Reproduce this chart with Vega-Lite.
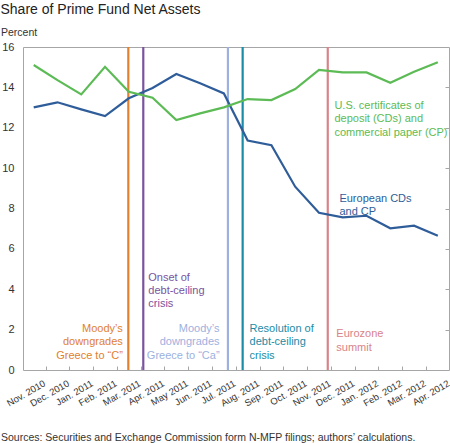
{
  "$schema": "https://vega.github.io/schema/vega-lite/v6.json",
  "width": 426,
  "height": 323,
  "padding": {"left": 0, "top": 3, "right": 1, "bottom": 0},
  "background": "white",
  "title": {
    "text": "Share of Prime Fund Net Assets",
    "anchor": "start",
    "frame": "bounds",
    "font": "Liberation Sans",
    "fontSize": 14,
    "fontWeight": "normal",
    "color": "#222222",
    "offset": 10
  },
  "config": {
    "view": {"stroke": "#a6a6a6", "strokeWidth": 1},
    "font": "Liberation Sans"
  },
  "datasets": {
    "series": [
      {"key": "European CDs and CP", "i": 0, "v": 13.01},
      {"key": "European CDs and CP", "i": 1, "v": 13.26},
      {"key": "European CDs and CP", "i": 2, "v": 12.91},
      {"key": "European CDs and CP", "i": 3, "v": 12.58},
      {"key": "European CDs and CP", "i": 4, "v": 13.46},
      {"key": "European CDs and CP", "i": 5, "v": 13.97},
      {"key": "European CDs and CP", "i": 6, "v": 14.66},
      {"key": "European CDs and CP", "i": 7, "v": 14.2},
      {"key": "European CDs and CP", "i": 8, "v": 13.7},
      {"key": "European CDs and CP", "i": 9, "v": 11.37},
      {"key": "European CDs and CP", "i": 10, "v": 11.14},
      {"key": "European CDs and CP", "i": 11, "v": 9.08},
      {"key": "European CDs and CP", "i": 12, "v": 7.79},
      {"key": "European CDs and CP", "i": 13, "v": 7.56},
      {"key": "European CDs and CP", "i": 14, "v": 7.64},
      {"key": "European CDs and CP", "i": 15, "v": 7.02},
      {"key": "European CDs and CP", "i": 16, "v": 7.15},
      {"key": "European CDs and CP", "i": 17, "v": 6.65},
      {"key": "U.S. CDs and CP", "i": 0, "v": 15.11},
      {"key": "U.S. CDs and CP", "i": 1, "v": 14.36},
      {"key": "U.S. CDs and CP", "i": 2, "v": 13.65},
      {"key": "U.S. CDs and CP", "i": 3, "v": 15.02},
      {"key": "U.S. CDs and CP", "i": 4, "v": 13.78},
      {"key": "U.S. CDs and CP", "i": 5, "v": 13.49},
      {"key": "U.S. CDs and CP", "i": 6, "v": 12.38},
      {"key": "U.S. CDs and CP", "i": 7, "v": 12.71},
      {"key": "U.S. CDs and CP", "i": 8, "v": 13.01},
      {"key": "U.S. CDs and CP", "i": 9, "v": 13.42},
      {"key": "U.S. CDs and CP", "i": 10, "v": 13.37},
      {"key": "U.S. CDs and CP", "i": 11, "v": 13.92},
      {"key": "U.S. CDs and CP", "i": 12, "v": 14.86},
      {"key": "U.S. CDs and CP", "i": 13, "v": 14.74},
      {"key": "U.S. CDs and CP", "i": 14, "v": 14.74},
      {"key": "U.S. CDs and CP", "i": 15, "v": 14.23},
      {"key": "U.S. CDs and CP", "i": 16, "v": 14.77},
      {"key": "U.S. CDs and CP", "i": 17, "v": 15.24}
    ],
    "events": [
      {"key": "Moody C", "pos": 3.98},
      {"key": "Onset", "pos": 4.61},
      {"key": "Moody Ca", "pos": 8.17},
      {"key": "Resolution", "pos": 8.79},
      {"key": "Eurozone", "pos": 12.37}
    ],
    "notesLeft": [
      {"key": "U.S. CDs and CP", "x": 12.65, "y": 13.08, "label": "U.S. certificates of\ndeposit (CDs) and\ncommercial paper (CP)"},
      {"key": "European CDs and CP", "x": 12.86, "y": 8.48, "label": "European CDs\nand CP"},
      {"key": "Onset", "x": 4.82, "y": 4.57, "label": "Onset of\ndebt-ceiling\ncrisis"},
      {"key": "Resolution", "x": 9.08, "y": 2.03, "label": "Resolution of\ndebt-ceiling\ncrisis"},
      {"key": "Eurozone", "x": 12.73, "y": 1.76, "label": "Eurozone\nsummit"}
    ],
    "notesRight": [
      {"key": "Moody C", "x": 3.75, "y": 2.03, "label": "Moody’s\ndowngrades\nGreece to “C”"},
      {"key": "Moody Ca", "x": 7.82, "y": 2.03, "label": "Moody’s\ndowngrades\nGreece to “Ca”"}
    ]
  },
  "resolve": {"axis": {"x": "independent", "y": "independent"}},
  "layer": [
    {
      "data": {"name": "events"},
      "mark": {"type": "rule", "strokeWidth": 2.2},
      "encoding": {
        "x": {
          "field": "pos", "type": "quantitative",
          "scale": {"domain": [-0.45, 17.47], "nice": false, "zero": false},
          "axis": {
            "orient": "bottom", "values": [0.5, 1.5, 2.5, 3.5, 4.5, 5.5, 6.5, 7.5, 8.5, 9.5, 10.5, 11.5, 12.5, 13.5, 14.5, 15.5, 16.5],
            "labels": false, "domain": false, "grid": false, "title": null,
            "tickSize": -4, "tickColor": "#a6a6a6", "tickWidth": 1
          }
        },
        "color": {
          "field": "key", "type": "nominal", "legend": null,
          "scale": {
            "domain": ["European CDs and CP", "U.S. CDs and CP", "Moody C", "Onset", "Moody Ca", "Resolution", "Eurozone"],
            "range": ["#2f5d9a", "#5cbb55", "#e2802e", "#7a52a0", "#9db1e0", "#1b8ca6", "#d98388"]
          }
        }
      }
    },
    {
      "data": {"name": "series"},
      "mark": {"type": "line", "strokeWidth": 2.2},
      "encoding": {
        "x": {
          "field": "i", "type": "quantitative",
          "axis": {
            "orient": "bottom",
            "values": [0, 1, 2, 3, 4, 5, 6, 7, 8, 9, 10, 11, 12, 13, 14, 15, 16, 17],
            "labelExpr": "['Nov. 2010','Dec. 2010','Jan. 2011','Feb. 2011','Mar. 2011','Apr. 2011','May 2011','Jun. 2011','Jul. 2011','Aug. 2011','Sep. 2011','Oct. 2011','Nov. 2011','Dec. 2011','Jan. 2012','Feb. 2012','Mar. 2012','Apr. 2012'][datum.value]",
            "labelAngle": -30, "labelFontSize": 9.5, "labelColor": "#333333",
            "labelPadding": 8, "labelOffset": 8, "labelOverlap": false, "labelFlush": false,
            "ticks": false, "tickSize": 0, "domain": false, "grid": false,
            "title": "Sources: Securities and Exchange Commission form N-MFP filings; authors’ calculations.",
            "titleFontSize": 10.5, "titleFontWeight": "normal", "titleColor": "#333333",
            "titleAlign": "left", "titleBaseline": "middle", "titleX": -22.5, "titleY": 67
          }
        },
        "y": {
          "field": "v", "type": "quantitative",
          "scale": {"domain": [0, 16], "nice": false},
          "axis": {
            "orient": "left", "values": [0, 2, 4, 6, 8, 10, 12, 14, 16],
            "labelFontSize": 11, "labelColor": "#333333", "labelPadding": 9,
            "ticks": false, "tickSize": 0, "domain": false, "grid": false,
            "title": "Percent", "titleAngle": 0, "titleFontSize": 10.5, "titleFontWeight": "normal",
            "titleColor": "#333333", "titleAlign": "left", "titleBaseline": "middle",
            "titleX": -22.5, "titleY": -15
          }
        },
        "color": {"field": "key", "type": "nominal", "legend": null}
      }
    },
    {
      "data": {"name": "notesLeft"},
      "mark": {"type": "text", "align": "left", "baseline": "middle", "fontSize": 11, "lineHeight": 13.3, "lineBreak": "\n"},
      "encoding": {
        "x": {"field": "x", "type": "quantitative", "axis": null},
        "y": {
          "field": "y", "type": "quantitative",
          "axis": {
            "orient": "right", "values": [2, 4, 6, 8, 10, 12, 14],
            "labels": false, "domain": false, "grid": false, "title": null,
            "tickSize": -4, "tickColor": "#a6a6a6", "tickWidth": 1
          }
        },
        "text": {"field": "label"},
        "color": {"field": "key", "type": "nominal", "legend": null}
      }
    },
    {
      "data": {"name": "notesRight"},
      "mark": {"type": "text", "align": "right", "baseline": "middle", "fontSize": 11, "lineHeight": 13.3, "lineBreak": "\n"},
      "encoding": {
        "x": {"field": "x", "type": "quantitative", "axis": null},
        "y": {"field": "y", "type": "quantitative", "axis": null},
        "text": {"field": "label"},
        "color": {"field": "key", "type": "nominal", "legend": null}
      }
    }
  ]
}
